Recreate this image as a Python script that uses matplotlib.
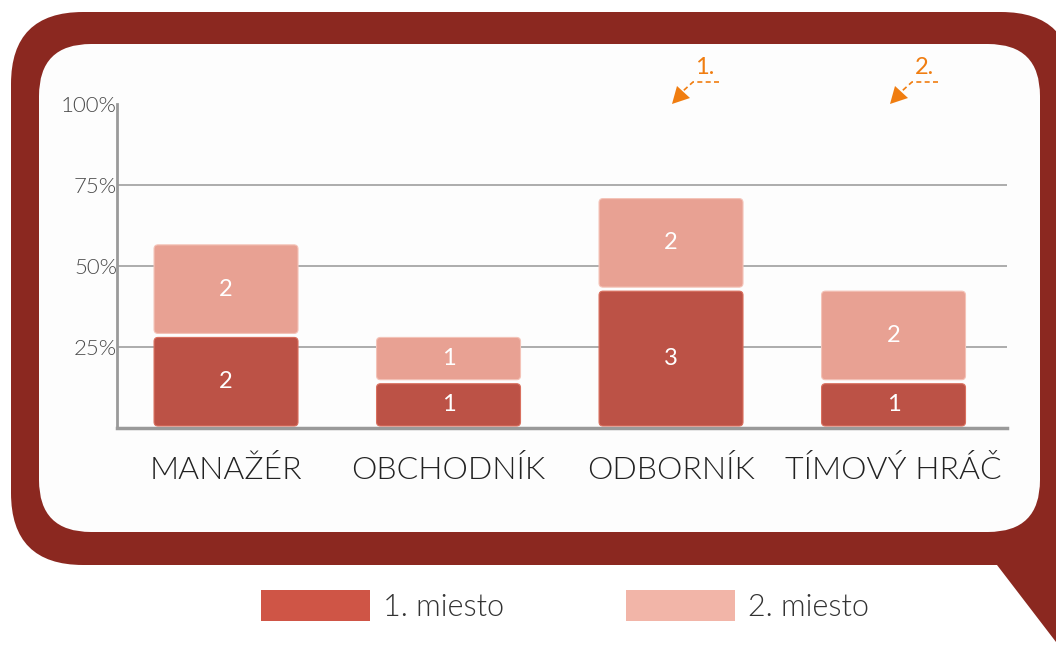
import matplotlib
matplotlib.use("Agg")
import matplotlib.pyplot as plt
from matplotlib.patches import FancyBboxPatch, Polygon, Patch

# data
kategorie = ["MANAŽÉR", "OBCHODNÍK", "ODBORNÍK", "TÍMOVÝ HRÁČ"]
prve_miesto = [2, 1, 3, 1]
druhe_miesto = [2, 1, 2, 2]
respondenti = 7
y_ticks = [0.25, 0.5, 0.75, 1.0]
y_labels = ["25%", "50%", "75%", "100%"]
legenda = ["1. miesto", "2. miesto"]

plt.rcParams["font.family"] = ["Lato", "DejaVu Sans"]

ram = "#8B2820"
tmava = "#BC5246"
svetla = "#E8A193"
leg_tmava = "#CF5546"
leg_svetla = "#F2B5A8"
oranzova = "#F07D10"
seda = "#A6A6A6"
tenke = 300

fig = plt.figure(figsize=(10.56, 6.53), dpi=100)

# bublina okolo grafu
bg = fig.add_axes([0, 0, 1, 1])
bg.set_xlim(0, 1056)
bg.set_ylim(653, 0)
bg.axis("off")
bg.add_patch(FancyBboxPatch((11, 12), 1062, 553, boxstyle="round,pad=0,rounding_size=72",
                            fc=ram, ec="none"))
bg.add_patch(Polygon([(960, 540), (997, 565), (1056, 642), (1100, 700), (1100, 540)],
                     fc=ram, ec="none"))
bg.add_patch(FancyBboxPatch((39, 44), 1001, 488, boxstyle="round,pad=0,rounding_size=52",
                            fc="#FDFDFD", ec="none"))

# sipky 1. a 2.
for znak, tx, hrot in [("1.", 705, 672), ("2.", 924, 890)]:
    bg.text(tx, 68, znak, color=oranzova, fontsize=17, ha="center", va="center")
    bg.plot([tx + 14, tx - 12, tx - 22], [82, 82, 91], color=oranzova, lw=1.2,
            ls=(0, (3, 2)))
    bg.add_patch(Polygon([(hrot, 104), (hrot + 5, 86), (hrot + 18, 98)],
                         fc=oranzova, ec="none"))

# graf
ax = fig.add_axes([117 / 1056, 1 - 428 / 653, 890 / 1056, 324 / 653])
ax.set_facecolor("none")
ax.set_xlim(-0.49, 3.51)
ax.set_ylim(0, 1.0)

x = list(range(len(kategorie)))
podiel1 = [v / respondenti for v in prve_miesto]
podiel2 = [v / respondenti for v in druhe_miesto]
b1 = ax.bar(x, podiel1, width=0.665, color=tmava)
b2 = ax.bar(x, podiel2, bottom=podiel1, width=0.665, color=svetla)

# zaoblene rohy stlpcov
p0 = ax.transData.transform((0, 0))
p1 = ax.transData.transform((1, 1))
ppx = p1[0] - p0[0]
ppy = p1[1] - p0[1]
for bars, ec in [(b1, "#D9705F"), (b2, "#F4C3B8")]:
    for r in bars:
        r.set_visible(False)
        ax.add_patch(FancyBboxPatch((r.get_x(), r.get_y()), r.get_width(), r.get_height(),
                                    boxstyle=f"round,pad={-2 / ppx},rounding_size={4 / ppx}",
                                    mutation_aspect=ppx / ppy, fc=r.get_facecolor(),
                                    ec=ec, lw=0.8, zorder=3))

for xi, a, b, va, vb in zip(x, podiel1, podiel2, prve_miesto, druhe_miesto):
    ax.text(xi, a / 2, str(va), ha="center", va="center", color="white", fontsize=17, zorder=4)
    ax.text(xi, a + b / 2, str(vb), ha="center", va="center", color="white", fontsize=17, zorder=4)

ax.set_yticks(y_ticks)
ax.set_yticklabels(y_labels, fontsize=16, color="#4A4A4A", fontweight=tenke)
ax.set_xticks(x)
ax.set_xticklabels(kategorie, fontsize=23, color="#222222", fontweight=tenke)
ax.tick_params(axis="y", length=0, pad=0)
ax.tick_params(axis="x", length=0, pad=20)
ax.yaxis.grid(True, color=seda, lw=1.3)
ax.get_ygridlines()[-1].set_visible(False)
ax.set_axisbelow(True)
for s in ["top", "right"]:
    ax.spines[s].set_visible(False)
ax.spines["left"].set_color("#9A9A9A")
ax.spines["left"].set_linewidth(2)
ax.spines["bottom"].set_color("#9A9A9A")
ax.spines["bottom"].set_linewidth(2.5)

# legenda
handles = [Patch(fc=leg_tmava), Patch(fc=leg_svetla)]
fig.legend(handles, legenda, loc="center", bbox_to_anchor=(565 / 1056, 1 - 606 / 653),
           ncol=2, frameon=False, prop={"size": 22, "weight": tenke},
           labelcolor="#333333", handlelength=3.57, handleheight=1.18,
           handletextpad=0.43, columnspacing=3.96, borderaxespad=0)

fig.savefig("out.png", dpi=100)
